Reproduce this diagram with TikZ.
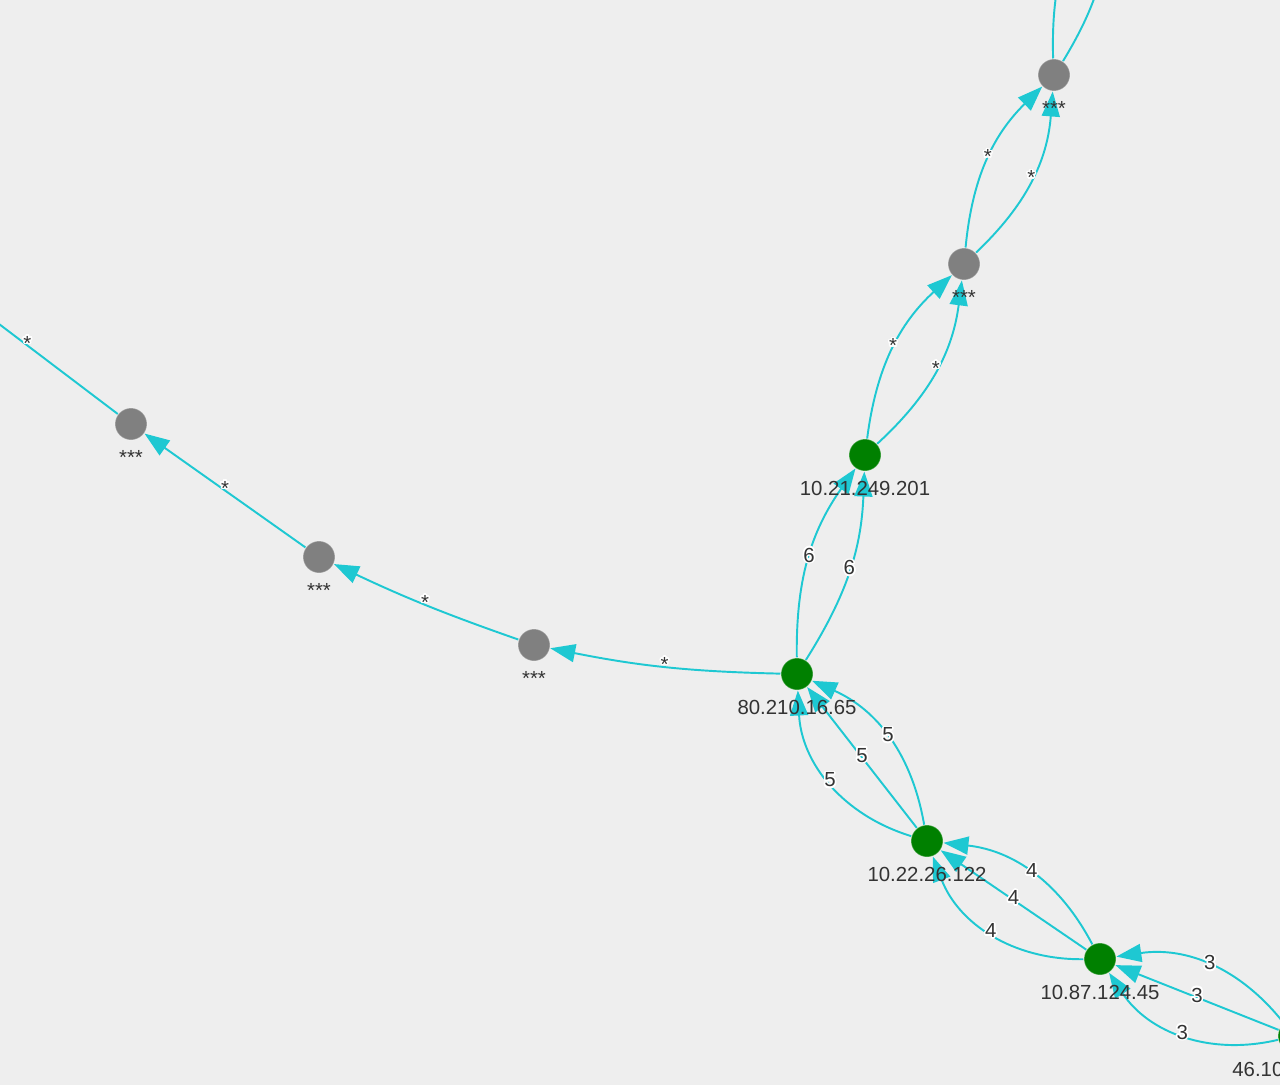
\documentclass[tikz,border=0pt]{standalone}
\usepackage{fontspec}
\setmainfont{Liberation Sans}
\usepackage{contour}
\usetikzlibrary{arrows.meta,positioning}

\definecolor{bgcol}{HTML}{EEEEEE}
\definecolor{linkcol}{HTML}{1EC8D2}
\definecolor{hostgreen}{HTML}{008000}
\definecolor{hostgray}{HTML}{808080}
\definecolor{tagcol}{HTML}{333333}
\contourlength{0.9pt}

\pgfdeclarelayer{background}
\pgfdeclarelayer{edges}
\pgfsetlayers{background,edges,main}

\tikzset{
    host/.style={circle,minimum size=0.64cm,inner sep=0pt,
        draw=white,draw opacity=0.35,line width=0.6pt},
    known/.style={host,fill=hostgreen},
    hidden/.style={host,fill=hostgray},
    tag/.style={text=tagcol,font=\fontsize{11.6}{13}\selectfont,
        inner sep=0pt,text height=0.716em,text depth=0.2em},
    link/.style={linkcol,line width=1.1pt,
        -{Triangle[length=0.5cm,width=0.36cm]}},
    stub/.style={linkcol,line width=1.1pt}
}

\begin{document}
\begin{tikzpicture}[x=0.02cm,y=-0.02cm]
    \begin{pgfonlayer}{background}
        \fill[bgcol] (0,0) rectangle (1280,1085);
    \end{pgfonlayer}
    \useasboundingbox (0,0) rectangle (1280,1085);

    % hosts along the route
    \node[known] (g1) at (1294,1036) {};
    \node[known] (g2) at (1100,959) {};
    \node[known] (g3) at (927,841) {};
    \node[known] (g4) at (797,674) {};
    \node[known] (g5) at (865,455) {};
    \node[hidden] (h1) at (964,264) {};
    \node[hidden] (h2) at (1054,75) {};
    \node[hidden] (h3) at (534,645) {};
    \node[hidden] (h4) at (319,557) {};
    \node[hidden] (h5) at (131,424) {};
    \coordinate (far-top) at (1108,-128);
    \coordinate (far-left) at (-63,277);

    % names under the hosts
    \node[tag,anchor=north west] (g1-tag) at (1232,1064) {46.10};
    \node[tag,below=0.23cm of g2] (g2-tag) {10.87.124.45};
    \node[tag,below=0.23cm of g3] (g3-tag) {10.22.26.122};
    \node[tag,below=0.23cm of g4] (g4-tag) {80.210.16.65};
    \node[tag,below=0.23cm of g5] (g5-tag) {10.21.249.201};
    \node[tag,below=0.23cm of h1] (h1-tag) {***};
    \node[tag,below=0.23cm of h2] (h2-tag) {***};
    \node[tag,below=0.23cm of h3] (h3-tag) {***};
    \node[tag,below=0.23cm of h4] (h4-tag) {***};
    \node[tag,below=0.23cm of h5] (h5-tag) {***};

    \begin{pgfonlayer}{edges}
        \draw[link] (g1) to[bend right=30] node[tag] (l3a) {\contour{white}{3}} (g2);
        \draw[link] (g1) to node[tag] (l3b) {\contour{white}{3}} (g2);
        \draw[link] (g1) to[bend left=35] node[tag] (l3c) {\contour{white}{3}} (g2);

        \draw[link] (g2) to[bend right=28] node[tag] (l4a) {\contour{white}{4}} (g3);
        \draw[link] (g2) to node[tag] (l4b) {\contour{white}{4}} (g3);
        \draw[link] (g2) to[bend left=35] node[tag] (l4c) {\contour{white}{4}} (g3);

        \draw[link] (g3) to[bend right=28] node[tag] (l5a) {\contour{white}{5}} (g4);
        \draw[link] (g3) to node[tag] (l5b) {\contour{white}{5}} (g4);
        \draw[link] (g3) to[bend left=35] node[tag] (l5c) {\contour{white}{5}} (g4);

        \draw[link] (g4) to[bend left=18] node[tag] (l6a) {\contour{white}{6}} (g5);
        \draw[link] (g4) to[bend right=15] node[tag] (l6b) {\contour{white}{6}} (g5);

        \draw[link] (g5) to[bend left=20] node[tag] (s1a) {\contour{white}{*}} (h1);
        \draw[link] (g5) to[bend right=20] node[tag] (s1b) {\contour{white}{*}} (h1);

        \draw[link] (h1) to[bend left=20] node[tag] (s2a) {\contour{white}{*}} (h2);
        \draw[link] (h1) to[bend right=21] node[tag] (s2b) {\contour{white}{*}} (h2);

        \draw[stub] (h2) to[bend left=18] (far-top);
        \draw[stub] (h2) to[bend right=18] (far-top);

        \draw[link] (g4) to[bend left=5] node[tag] (s3) {\contour{white}{*}} (h3);
        \draw[link] (h3) to[bend left=3] node[tag] (s4) {\contour{white}{*}} (h4);
        \draw[link] (h4) to node[tag] (s5) {\contour{white}{*}} (h5);
        \draw[stub] (h5) to node[tag] (s6) {\contour{white}{*}} (far-left);
    \end{pgfonlayer}
\end{tikzpicture}
\end{document}
